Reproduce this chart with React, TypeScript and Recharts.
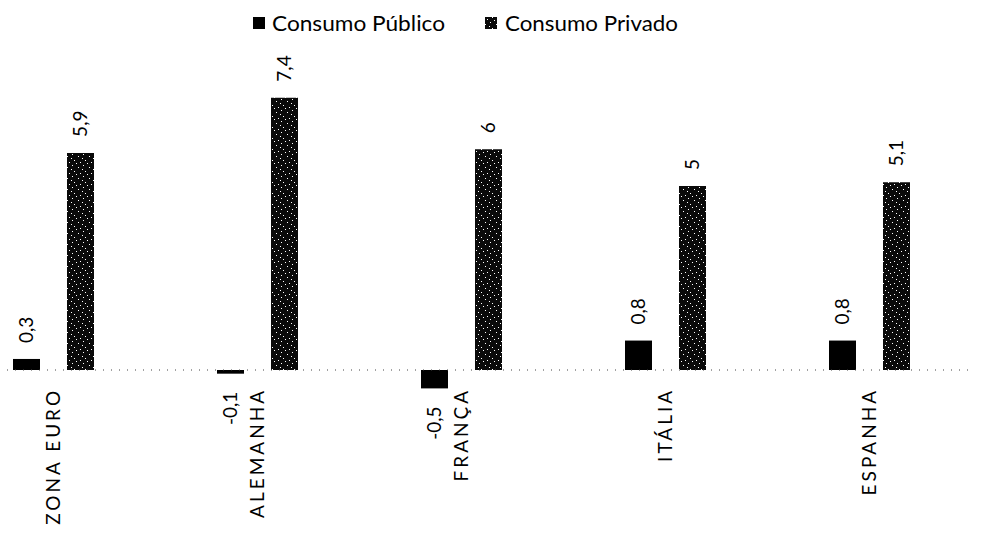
import React from 'react';
import { BarChart, Bar, XAxis, YAxis, LabelList, ReferenceLine, Legend } from 'recharts';

// Variação acumulada do consumo (%), por região
const categories = ['ZONA EURO', 'ALEMANHA', 'FRANÇA', 'ITÁLIA', 'ESPANHA'];
const consumoPublico = [0.3, -0.1, -0.5, 0.8, 0.8];
const consumoPrivado = [5.9, 7.4, 6, 5, 5.1];
const seriesNames = ['Consumo Público', 'Consumo Privado'];

const data = categories.map((name, i) => ({
  name,
  publico: consumoPublico[i],
  privado: consumoPrivado[i],
}));

const FONT = 'Lato, "Open Sans", sans-serif';

const fmt = (v: number) => String(v).replace('.', ',');

const ValueLabel = (props: any) => {
  const { x, y, width, height, value } = props;
  const cx = Number(x) + Number(width) / 2;
  const top = Math.min(Number(y), Number(y) + Number(height));
  const bottom = Math.max(Number(y), Number(y) + Number(height));
  const positive = Number(value) >= 0;
  const ty = positive ? top - 16 : bottom + 18;
  return (
    <text
      x={cx}
      y={ty}
      dy="0.35em"
      transform={`rotate(-90 ${cx} ${ty})`}
      textAnchor={positive ? 'start' : 'end'}
      fontFamily={FONT}
      fontSize={19}
      fill="#000"
    >
      {fmt(Number(value))}
    </text>
  );
};

const CategoryTick = (props: any) => {
  const { x, y, payload } = props;
  const ty = Number(y) - 0.5;
  return (
    <text
      x={x}
      y={ty}
      dy="0.35em"
      transform={`rotate(-90 ${x} ${ty})`}
      textAnchor="end"
      fontFamily={FONT}
      fontSize={19}
      letterSpacing={3}
      fill="#000"
    >
      {payload.value}
    </text>
  );
};

const LegendContent = () => (
  <svg width={985} height={40} style={{ display: 'block' }}>
    <rect x={253} y={17} width={12} height={12} fill="#000" />
    <text x={272} y={31} fontFamily={FONT} fontSize={21} textLength={173} lengthAdjust="spacingAndGlyphs" fill="#000">
      {seriesNames[0]}
    </text>
    <rect x={485} y={17} width={12} height={12} fill="url(#speckle)" />
    <text x={505} y={31} fontFamily={FONT} fontSize={21} textLength={173} lengthAdjust="spacingAndGlyphs" fill="#000">
      {seriesNames[1]}
    </text>
  </svg>
);

export default function App() {
  return (
    <div style={{ position: 'fixed', left: 0, top: 0, width: 985, height: 540, background: '#fff', overflow: 'hidden' }}>
      <BarChart
        width={985}
        height={540}
        data={data}
        margin={{ top: 35.6, right: 14, bottom: 0, left: -49 }}
        barGap={27}
        barSize={27}
      >
        <defs>
          <pattern id="speckle" width={11} height={11} patternUnits="userSpaceOnUse">
            <rect width={11} height={11} fill="#0a0a0a" />
            <rect x={1} y={2} width={1} height={1} fill="#fff" />
            <rect x={6} y={0} width={1} height={1} fill="#fff" />
            <rect x={8} y={6} width={1} height={1} fill="#fff" />
            <rect x={3} y={8} width={1} height={1} fill="#fff" />
            <rect x={5} y={4} width={1} height={1} fill="#fff" />
            <rect x={10} y={9} width={1} height={1} fill="#fff" />
          </pattern>
        </defs>
        <Legend verticalAlign="top" height={40} content={<LegendContent />} wrapperStyle={{ position: 'absolute', top: 0, left: 0, width: 985, height: 40 }} />
        <XAxis
          dataKey="name"
          axisLine={false}
          tickLine={false}
          tickSize={0}
          tickMargin={0}
          height={151.6}
          interval={0}
          tick={<CategoryTick />}
        />
        <YAxis hide type="number" domain={[-0.5, 8]} />
        <ReferenceLine y={0} stroke="#444" strokeDasharray="1 7" />
        <Bar dataKey="publico" name={seriesNames[0]} fill="#000" isAnimationActive={false}>
          <LabelList dataKey="publico" content={<ValueLabel />} />
        </Bar>
        <Bar dataKey="privado" name={seriesNames[1]} fill="url(#speckle)" isAnimationActive={false}>
          <LabelList dataKey="privado" content={<ValueLabel />} />
        </Bar>
      </BarChart>
    </div>
  );
}
